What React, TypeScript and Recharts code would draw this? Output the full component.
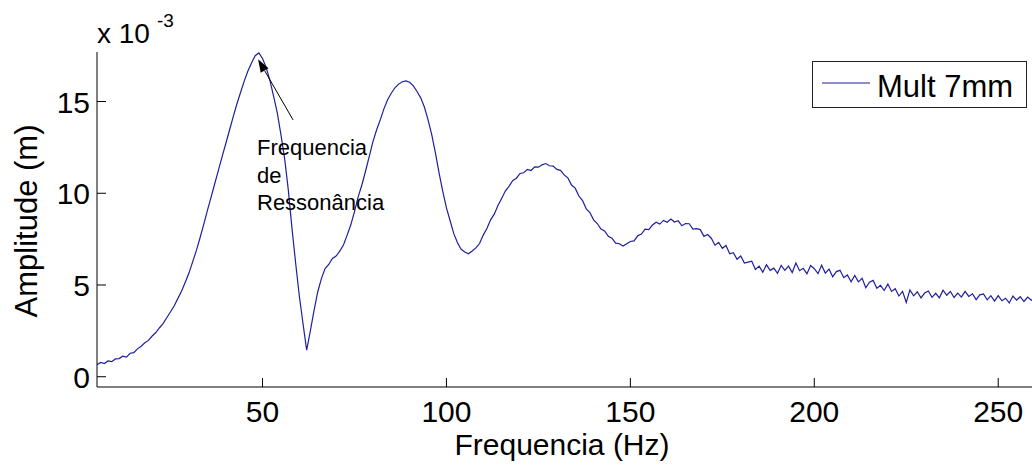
import React from 'react';
import { LineChart, Line, XAxis, YAxis, Legend, ReferenceLine } from 'recharts';

// frequência (Hz) — uma amostra por Hz
const FREQ_HZ = [
  5, 6, 7, 8, 9, 10, 11, 12, 13, 14,
  15, 16, 17, 18, 19, 20, 21, 22, 23, 24,
  25, 26, 27, 28, 29, 30, 31, 32, 33, 34,
  35, 36, 37, 38, 39, 40, 41, 42, 43, 44,
  45, 46, 47, 48, 49, 50, 51, 52, 53, 54,
  55, 56, 57, 58, 59, 60, 61, 62, 63, 64,
  65, 66, 67, 68, 69, 70, 71, 72, 73, 74,
  75, 76, 77, 78, 79, 80, 81, 82, 83, 84,
  85, 86, 87, 88, 89, 90, 91, 92, 93, 94,
  95, 96, 97, 98, 99, 100, 101, 102, 103, 104,
  105, 106, 107, 108, 109, 110, 111, 112, 113, 114,
  115, 116, 117, 118, 119, 120, 121, 122, 123, 124,
  125, 126, 127, 128, 129, 130, 131, 132, 133, 134,
  135, 136, 137, 138, 139, 140, 141, 142, 143, 144,
  145, 146, 147, 148, 149, 150, 151, 152, 153, 154,
  155, 156, 157, 158, 159, 160, 161, 162, 163, 164,
  165, 166, 167, 168, 169, 170, 171, 172, 173, 174,
  175, 176, 177, 178, 179, 180, 181, 182, 183, 184,
  185, 186, 187, 188, 189, 190, 191, 192, 193, 194,
  195, 196, 197, 198, 199, 200, 201, 202, 203, 204,
  205, 206, 207, 208, 209, 210, 211, 212, 213, 214,
  215, 216, 217, 218, 219, 220, 221, 222, 223, 224,
  225, 226, 227, 228, 229, 230, 231, 232, 233, 234,
  235, 236, 237, 238, 239, 240, 241, 242, 243, 244,
  245, 246, 247, 248, 249, 250, 251, 252, 253, 254,
  255, 256, 257, 258, 259, 260,
];

// amplitude (x 10^-3 m), Mult 7mm
const AMPLITUDE = [
  0.66, 0.78, 0.72, 0.86, 0.82, 0.97, 0.99, 1.12, 1.07, 1.28,
  1.31, 1.52, 1.66, 1.85, 1.98, 2.22, 2.41, 2.67, 2.91, 3.23,
  3.54, 3.87, 4.27, 4.67, 5.15, 5.65, 6.26, 6.87, 7.56, 8.29,
  9.05, 9.78, 10.52, 11.25, 11.98, 12.7, 13.42, 14.15, 14.85, 15.48,
  16.1, 16.65, 17.1, 17.5, 17.65, 17.35, 16.85, 16.15, 15.3, 14.4,
  13.2, 11.9, 10.2, 8.1, 6.2, 4.4, 2.9, 1.45, 2.5, 3.6,
  4.62, 5.35, 5.9, 6.12, 6.45, 6.58, 6.85, 7.18, 7.72, 8.28,
  9.0, 9.8, 10.45, 11.2, 12.0, 12.8, 13.45, 14.0, 14.6, 15.1,
  15.45, 15.75, 15.95, 16.08, 16.12, 16.05, 15.85, 15.55, 15.2, 14.7,
  14.0, 13.2, 12.2, 11.1, 10.1, 9.2, 8.5, 7.8, 7.3, 6.95,
  6.8, 6.7, 6.85, 7.02, 7.26, 7.72, 8.08, 8.55, 8.86, 9.33,
  9.72, 10.12, 10.38, 10.68, 10.82, 11.08, 11.12, 11.3, 11.24, 11.44,
  11.42, 11.55, 11.62, 11.5, 11.48, 11.3, 11.25, 11.0, 10.84, 10.45,
  10.28, 9.85, 9.6, 9.15, 8.95, 8.55, 8.35, 8.05, 7.95, 7.65,
  7.55, 7.28, 7.25, 7.12, 7.25, 7.37, 7.4, 7.68, 7.78, 8.05,
  8.02, 8.27, 8.42, 8.32, 8.52, 8.42, 8.6, 8.43, 8.5, 8.23,
  8.35, 8.34, 8.05, 8.07, 8.02, 7.65, 7.75, 7.55, 7.17, 7.32,
  7.0, 7.15, 6.7, 6.76, 6.4, 6.58, 6.2, 6.25, 6.3, 5.85,
  6.03, 5.7, 6.1, 5.8, 5.92, 5.64, 6.07, 5.8, 6.03, 5.68,
  6.2, 5.78, 5.91, 5.61, 6.06, 5.89, 5.62, 6.08, 5.65, 5.87,
  5.45, 5.73, 5.8, 5.4, 5.55, 5.18, 5.52, 5.17, 5.36, 4.85,
  5.15, 5.25, 4.82, 4.98, 4.7, 5.05, 4.65, 4.8, 4.4, 4.65,
  4.05, 4.73, 4.41, 4.63, 4.3, 4.56, 4.67, 4.33, 4.55, 4.3,
  4.72, 4.44, 4.65, 4.32, 4.56, 4.34, 4.65, 4.38, 4.52, 4.2,
  4.46, 4.51, 4.19, 4.42, 4.12, 4.42, 4.14, 4.28, 4.02, 4.4,
  4.18, 4.36, 4.1, 4.34, 4.17, 4.33,
];

const X_TICKS = [50, 100, 150, 200, 250];
const Y_TICKS = [0, 5, 10, 15];
const X_DOMAIN = [5, 260];
const Y_DOMAIN = [-0.56, 17.7];

// seta da anotação: cauda -> ponta (pico)
const ARROW_TAIL = { x: 58.3, y: 14.0 };
const ARROW_TIP = { x: 48.8, y: 17.3 };

const SERIES_NAME = 'Mult 7mm';
const LINE_COLOR = '#1f1f9e';
const FONT = '"Liberation Sans", Arial, Helvetica, sans-serif';
const TICK_LEN = 9;

const data = FREQ_HZ.map((f, i) => ({ f, amp: AMPLITUDE[i] }));

const BottomTick = ({ x, y, payload }: any) => (
  <g>
    <line x1={x} x2={x} y1={y} y2={y - TICK_LEN} stroke="#000" />
    <text x={x} y={y + 35} textAnchor="middle" fontSize={30} fontFamily={FONT} fill="#000">
      {payload.value}
    </text>
  </g>
);

const TopTick = ({ x, y }: any) => (
  <line x1={x} x2={x} y1={y} y2={y + TICK_LEN} stroke="#000" />
);

const LeftTick = ({ x, y, payload }: any) => (
  <g>
    <line x1={x} x2={x + TICK_LEN} y1={y} y2={y} stroke="#000" />
    <text x={x - 7} y={y + 11} textAnchor="end" fontSize={30} fontFamily={FONT} fill="#000">
      {payload.value}
    </text>
  </g>
);

const RightTick = ({ x, y }: any) => (
  <line x1={x} x2={x - TICK_LEN} y1={y} y2={y} stroke="#000" />
);

const Arrow = ({ x1, y1, x2, y2 }: any) => {
  const dx = x2 - x1;
  const dy = y2 - y1;
  const len = Math.sqrt(dx * dx + dy * dy) || 1;
  const ux = dx / len;
  const uy = dy / len;
  const head = 13;
  const half = 4.5;
  const bx = x2 - ux * head;
  const by = y2 - uy * head;
  const pts = `${x2},${y2} ${bx - uy * half},${by + ux * half} ${bx + uy * half},${by - ux * half}`;
  return (
    <g>
      <line x1={x1} y1={y1} x2={bx} y2={by} stroke="#000" strokeWidth={1} />
      <polygon points={pts} fill="#000" />
    </g>
  );
};

const LegendBox = ({ payload }: any) => {
  const item = payload && payload[0];
  return (
    <div style={{
      width: 215,
      height: 47,
      boxSizing: 'border-box',
      border: '1px solid #222',
      background: '#fff',
    }}>
      <svg width={213} height={45} style={{ display: 'block' }}>
        <line x1={9} x2={57} y1={21} y2={21} stroke={LINE_COLOR} strokeWidth={1.2} />
        <text x={64} y={35} fontSize={31} fontFamily={FONT} fill="#000">
          {item ? item.value : SERIES_NAME}
        </text>
      </svg>
    </div>
  );
};

export default function App() {
  return (
    <div style={{
      position: 'absolute',
      left: 0,
      top: 0,
      width: 1032,
      height: 467,
      overflow: 'hidden',
      background: '#fff',
    }}>
      <LineChart
        width={1050}
        height={467}
        data={data}
        margin={{ top: 52, right: 15, left: 0, bottom: 0 }}
      >
        <XAxis
          dataKey="f"
          type="number"
          domain={X_DOMAIN}
          ticks={X_TICKS}
          interval={0}
          allowDataOverflow
          height={80}
          tickSize={0}
          tickMargin={0}
          tick={<BottomTick />}
          axisLine={{ stroke: '#000' }}
          tickLine={false}
        />
        <XAxis
          xAxisId="top"
          orientation="top"
          dataKey="f"
          type="number"
          domain={X_DOMAIN}
          ticks={X_TICKS}
          interval={0}
          allowDataOverflow
          height={0}
          tickSize={0}
          tickMargin={0}
          tick={<TopTick />}
          axisLine={{ stroke: '#000' }}
          tickLine={false}
        />
        <YAxis
          type="number"
          domain={Y_DOMAIN}
          ticks={Y_TICKS}
          interval={0}
          allowDataOverflow
          width={97}
          tickSize={0}
          tickMargin={0}
          tick={<LeftTick />}
          axisLine={{ stroke: '#000' }}
          tickLine={false}
        />
        <YAxis
          yAxisId="right"
          orientation="right"
          type="number"
          domain={Y_DOMAIN}
          ticks={Y_TICKS}
          interval={0}
          allowDataOverflow
          width={0}
          tickSize={0}
          tickMargin={0}
          tick={<RightTick />}
          axisLine={{ stroke: '#000' }}
          tickLine={false}
        />
        <Legend
          layout="vertical"
          verticalAlign="middle"
          align="center"
          content={<LegendBox />}
          wrapperStyle={{ left: 812, top: 61, width: 215, height: 47 }}
        />
        <Line
          name={SERIES_NAME}
          dataKey="amp"
          type="linear"
          stroke={LINE_COLOR}
          strokeWidth={1.2}
          dot={false}
          activeDot={false}
          isAnimationActive={false}
        />
        <ReferenceLine
          segment={[ARROW_TAIL, ARROW_TIP]}
          shape={Arrow}
          ifOverflow="visible"
        />
      </LineChart>

      <svg
        width={1032}
        height={467}
        style={{ position: 'absolute', left: 0, top: 0, pointerEvents: 'none' }}
        fontFamily={FONT}
      >
        <text x={97} y={43} fontSize={28} fill="#000">x 10</text>
        <text x={157} y={27} fontSize={19} fill="#000">-3</text>
        <text
          transform="translate(37,221) rotate(-90)"
          textAnchor="middle"
          fontSize={31}
          fill="#000"
        >
          Amplitude (m)
        </text>
        <text x={562} y={455} textAnchor="middle" fontSize={30} fill="#000">
          Frequencia (Hz)
        </text>
        <text x={257} y={155} fontSize={22} fill="#000">Frequencia</text>
        <text x={257} y={183} fontSize={22} fill="#000">de</text>
        <text x={257} y={210} fontSize={22} fill="#000">Ressonância</text>
      </svg>
    </div>
  );
}
